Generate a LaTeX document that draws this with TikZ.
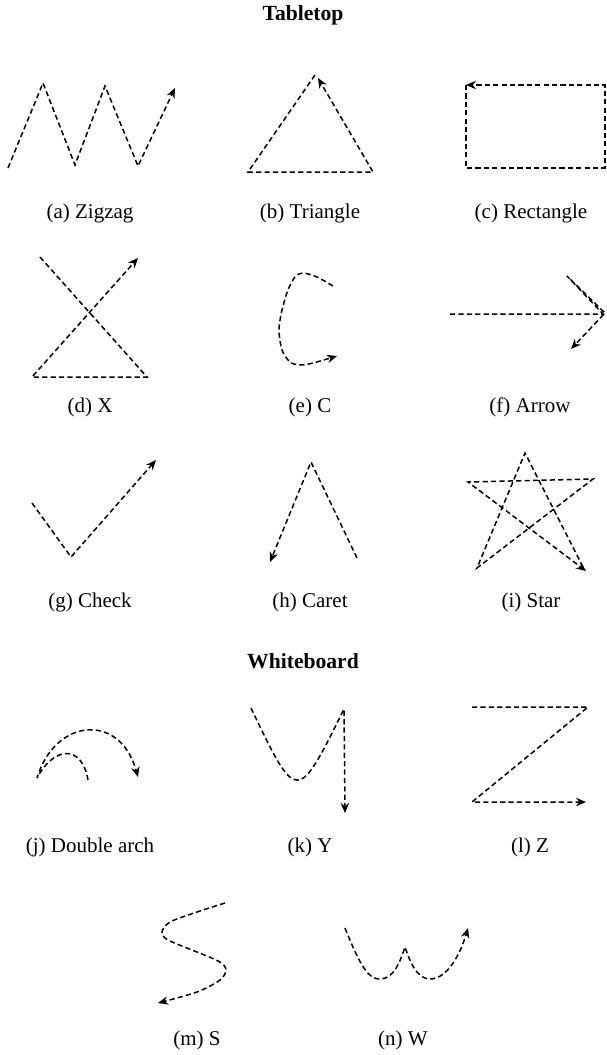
\documentclass[tikz,border=0pt]{standalone}
\usepackage{fontspec}
\setmainfont{Liberation Serif}
\usetikzlibrary{arrows.meta}
\tikzset{
  strk/.style={draw=black,line width=0.75pt,dash pattern=on 2.6pt off 1.6pt},
  strka/.style={strk,-{Stealth[length=5pt,width=4.2pt]}},
  capt/.style={font=\fontsize{10.5}{12}\selectfont,inner sep=0pt},
  ttl/.style={font=\fontsize{10.8}{12}\selectfont\bfseries,inner sep=0pt},
}

\begin{document}
\begin{tikzpicture}[x=0.5pt,y=-0.5pt]
\useasboundingbox (0,0) rectangle (606,1055);

\node[ttl] (tabletop) at (303,15) {Tabletop};
\draw[strka] (8,168) -- (43,83) -- (75,165) -- (105,86) -- (138,166) -- (175,88);
\node[capt] (zigzag) at (90,213) {(a) Zigzag};
\draw[strka] (315,75) -- (248,172) -- (373,172) -- (318,78);
\node[capt] (triangle) at (310,213) {(b) Triangle};
\draw[strka] (466,85) -- (466,168) -- (605,168) -- (605,85) -- (466,85);
\node[capt] (rectangle) at (531,213) {(c) Rectangle};

\draw[strka] (40,257) -- (147,377) -- (32,377) -- (138,258);
\node[capt] (xsign) at (90,407) {(d) X};
\draw[strka] plot[smooth] coordinates {(333,286) (317,277) (303,273) (295,277)
  (288,290) (282,310) (279,330) (282,350) (290,362) (300,365) (313,363) (337,356)};
\node[capt] (cshape) at (310,407) {(e) C};
\draw[strka] (450,314) -- (603,314) -- (567,276) -- (605,313) -- (571,349);
\node[capt] (arrow) at (530,407) {(f) Arrow};

\draw[strka] (32,503) -- (71,557) -- (156,460);
\node[capt] (check) at (90,602) {(g) Check};
\draw[strka] (357,558) -- (311,462) -- (270,562);
\node[capt] (caret) at (310,602) {(h) Caret};
\draw[strka] (583,567) -- (525,453) -- (477,568) -- (593,479) -- (468,482) -- (586,571);
\node[capt] (star) at (531,602) {(i) Star};

\node[ttl] (whiteboard) at (303,661) {Whiteboard};
\draw[strka] (88,780) .. controls (82,745) and (55,745) .. (37,778)
  .. controls (55,718) and (120,712) .. (138,777);
\node[capt] (dblarch) at (90,847) {(j) Double arch};
\draw[strka] (251,708) .. controls (297,804) .. (344,709) -- (345,813);
\node[capt] (yshape) at (310,847) {(k) Y};
\draw[strka] (472,707) -- (588,707) -- (472,802) -- (586,802);
\node[capt] (zshape) at (530,847) {(l) Z};

\draw[strka] plot[smooth] coordinates {(225,903) (197,912) (170,922) (162,932)
  (168,940) (197,952) (220,962) (226,970) (220,980) (197,992) (158,1003)};
\node[capt] (sshape) at (197,1040) {(m) S};
\draw[strka] (345,928) .. controls (360,965) and (368,980) .. (381,979)
  .. controls (394,978) and (400,962) .. (405,947)
  .. controls (410,962) and (417,979) .. (430,979)
  .. controls (447,979) and (460,955) .. (468,928);
\node[capt] (wshape) at (403,1040) {(n) W};
\end{tikzpicture}
\end{document}
